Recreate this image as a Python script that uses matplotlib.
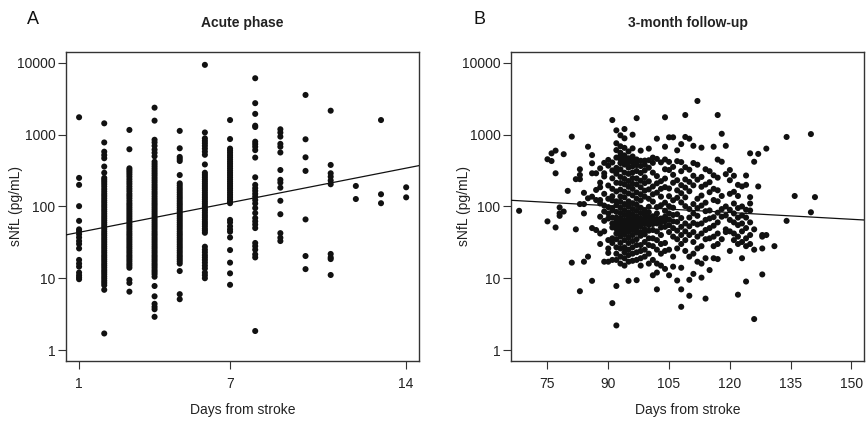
import numpy as np
import matplotlib
matplotlib.use('Agg')
import matplotlib.pyplot as plt
from matplotlib.ticker import NullLocator

plt.rcParams['font.family'] = ['Liberation Sans', 'DejaVu Sans']

# ---- panel A: acute phase, sNfL (pg/mL) per day from stroke ----
acute_days = [1, 2, 3, 4, 5, 6, 7, 8, 9, 10, 11, 12, 13, 14]
acute_nfl = [
    # day 1
    [1750, 250, 200, 101, 63, 48, 45, 41, 37, 33, 30, 26, 18, 16, 14.5, 12, 11, 10.3, 9.7],
    # day 2
    [1440, 780, 580, 520, 470, 360, 295, 250, 235, 220, 205, 190, 175, 162,
     150, 140, 130, 121, 113, 105, 98, 91, 85, 79, 73.5, 68.6, 64, 59.7, 55.7, 52,
     48.5, 45, 42, 39.4, 36.7, 34.3, 32, 29.8, 27.8, 26, 24.2, 22.6, 21, 19.7,
     18.4, 17.2, 16, 15, 14, 13, 12.2, 11.4, 10.6, 9.9, 9.2, 8.6, 8, 6.9, 1.7],
    # day 3
    [1165, 627, 340, 320, 300, 280, 260, 240, 222, 206, 190, 176, 163, 150,
     140, 130, 120, 111, 104, 97, 90.6, 84.5, 78.8, 73.5, 68.6, 64, 59.7, 55.7,
     52, 48.5, 45, 42, 39.4, 36.7, 34.3, 32, 29.8, 27.8, 26, 24.2, 22.6, 21,
     19.7, 18.4, 17.2, 16, 15, 14, 9.5, 8.6, 6.5],
    # day 4
    [2380, 1570, 850, 780, 700, 620, 560, 500, 420, 390, 362, 336, 312, 290,
     270, 250, 232, 216, 200, 186, 173, 160, 149, 138, 128, 119, 111, 104, 97,
     90.6, 84.5, 78.8, 73.5, 68.6, 64, 59.7, 55.7, 52, 48.5, 45, 42, 39.4, 36.7,
     34.3, 32, 29.8, 27.8, 26, 24.2, 22.6, 21, 19.7, 18.4, 17.2, 16, 15, 14, 13,
     12.2, 11.4, 10.5, 7.8, 5.6, 4.4, 4.0, 3.7, 2.9],
    # day 5
    [1130, 647, 490, 460, 430, 274, 210, 196, 182, 170, 158, 147, 137, 128,
     119, 111, 104, 97, 90.6, 84.5, 78.8, 73.5, 68.6, 64, 59.7, 55.7, 52, 48.5,
     45, 42, 39.4, 36.7, 34.3, 32, 29.8, 27.8, 26, 24.2, 22.6, 21, 19.7, 18.4,
     17.2, 16, 12.6, 6.0, 5.1],
    # day 6
    [9400, 1075, 890, 820, 760, 700, 640, 580, 525, 385, 295, 275, 256, 238,
     222, 207, 193, 180, 168, 156, 145, 135, 126, 117, 109, 101, 94, 88, 82, 76,
     71, 66, 61, 57, 53, 49, 46, 43, 27.5, 25, 23, 21, 19.5, 18, 16.5, 15, 13.7,
     12, 11, 10],
    # day 7
    [1600, 870, 640, 600, 560, 520, 485, 452, 420, 392, 365, 340, 316, 294,
     274, 255, 238, 222, 207, 193, 180, 168, 156, 145, 135, 126, 117, 111,
     65, 60, 53, 48, 44.5, 37, 24.7, 16.5, 11.7, 8.1],
    # day 8
    [6120, 2750, 1950, 1335, 1280, 800, 740, 680, 610, 480, 255, 200, 180, 165,
     150, 137, 123, 110, 95, 81, 69, 62, 56, 50, 31, 28, 25, 21.5, 19.5, 1.84],
    # day 9
    [1190, 1070, 940, 745, 680, 565, 322, 235, 215, 183, 120, 78, 42.5, 36.7, 33],
    # day 10
    [3580, 863, 484, 313, 66, 20.4, 13.4],
    # day 11
    [2160, 379, 290, 260, 230, 204, 21.8, 19.5, 18.5, 11.1],
    # day 12
    [193, 127],
    # day 13
    [1600, 148, 111],
    # day 14
    [185, 134],
]

# ---- panel B: 3-month follow-up ----
fu_days = [68, 75, 76, 77, 78, 79, 80, 81, 82, 83, 84, 85, 86, 87, 88, 89, 90,
           91, 92, 93, 94, 95, 96, 97, 98, 99, 100, 101, 102, 103, 104, 105,
           106, 107, 108, 109, 110, 111, 112, 113, 114, 115, 116, 117, 118,
           119, 120, 121, 122, 123, 124, 125, 126, 127, 128, 129, 131, 134,
           136, 140, 141]
fu_nfl = [
    [87],
    [62, 455],
    [430, 550],
    [600, 290, 51],
    [97, 80, 74],
    [85, 535],
    [165],
    [940, 16.5],
    [48, 240],
    [240, 330, 275, 6.6, 108],
    [155, 80, 17, 108],
    [20, 680, 130],
    [520, 400, 9.2, 137, 50, 290],
    [123, 47, 290, 170],
    [340, 215, 123, 72, 30, 42, 185, 110],
    [290, 405, 103, 85, 63, 17, 262, 150, 45],
    [445, 370, 26, 98, 80, 68, 34, 22.5, 128, 196, 17],
    [1600, 410, 176, 121, 88, 58, 51, 31, 4.5, 318, 247, 70, 36, 18, 139, 95],
    [1150, 760, 610, 480, 345, 286, 214, 162, 118, 104, 84, 70, 61, 55, 49, 42,
     35, 27, 22, 18, 2.2, 7.8, 300, 66],
    [980, 690, 560, 455, 402, 330, 258, 212, 172, 138, 116, 96, 81, 69, 60, 53,
     48, 44, 38, 31, 26, 20, 16, 505],
    [1200, 890, 655, 515, 438, 383, 296, 242, 203, 161, 134, 108, 89, 76, 64,
     58, 52, 46, 41, 34, 27, 23, 19, 15],
    [585, 470, 412, 348, 285, 226, 188, 152, 118, 100, 83, 71, 62, 57, 50, 44,
     37, 31, 25, 21, 9.2, 17],
    [1000, 645, 497, 421, 363, 298, 248, 207, 176, 143, 111, 92, 78, 67, 61,
     54, 47, 40, 33, 27, 22, 17.5],
    [1700, 452, 377, 312, 246, 203, 157, 128, 106, 87, 73, 64, 57, 49, 43, 35,
     29, 23, 18, 9.4, 425],
    [600, 433, 366, 293, 228, 185, 148, 122, 96, 81, 68, 59, 53, 44, 39, 29,
     24, 19, 15],
    [436, 381, 318, 255, 212, 166, 137, 88, 76, 66, 57, 48, 41, 32, 25, 20],
    [640, 441, 347, 224, 173, 128, 99, 83, 71, 61, 55, 46, 36, 29, 22, 16],
    [405, 296, 190, 148, 117, 73, 64, 57, 47, 36, 28, 18, 11, 480],
    [880, 460, 265, 210, 156, 98, 80, 67, 58, 45, 34, 25, 16, 7.0, 12],
    [412, 225, 176, 137, 104, 68, 60, 51, 40, 30, 22, 15],
    [1750, 680, 452, 330, 245, 186, 113, 87, 72, 62, 52, 31, 24, 13.5],
    [920, 418, 322, 178, 139, 101, 80, 66, 55, 44, 25, 11],
    [920, 356, 276, 214, 122, 96, 76, 62, 50, 38, 20, 14.5],
    [605, 428, 232, 168, 132, 78, 61, 46, 35, 26, 9.3],
    [740, 415, 310, 198, 153, 114, 69, 52, 40, 30, 7.0, 4.0, 14],
    [930, 352, 238, 183, 134, 101, 58, 45, 34, 24, 1880],
    [880, 325, 220, 163, 92, 70, 53, 40, 9.5, 5.7, 20],
    [700, 403, 268, 197, 108, 80, 59, 44, 32, 22, 11.5],
    [2950, 382, 236, 128, 95, 74, 56, 38, 26, 17],
    [660, 258, 188, 142, 103, 58, 42, 28, 10.2, 16],
    [330, 202, 113, 86, 65, 47, 35, 5.2, 19],
    [310, 218, 158, 88, 68, 50, 36, 13],
    [680, 272, 176, 123, 71, 54, 38, 28, 19],
    [1880, 450, 252, 168, 118, 82, 60, 42, 30, 18.5],
    [1030, 420, 140, 92, 72, 35],
    [700, 282, 100, 75, 48, 44],
    [322, 232, 150, 90, 65, 45, 24],
    [268, 160, 110, 80, 60, 42, 34],
    [200, 140, 95, 70, 55, 38, 30, 5.9],
    [190, 100, 75, 58, 45, 32, 19],
    [270, 200, 90, 70, 50, 36, 28, 9],
    [550, 135, 110, 88, 60, 40, 30],
    [420, 48, 25, 2.7],
    [540, 190],
    [40, 26, 11.3, 38],
    [640, 40],
    [28],
    [930, 63],
    [140],
    [1020, 83],
    [135],
]

# fitted lines, log10(sNfL) = a + b * day
acute_fit = (1.571, 0.0688)
fu_fit = (2.294, -0.00315)

fig = plt.figure(figsize=(8.66, 4.21), dpi=100)
ax1 = fig.add_axes([66/866, 1-361/421, 353/866, 309/421])
ax2 = fig.add_axes([511/866, 1-361/421, 353/866, 309/421])


def draw(ax, days, vals, fit, xlim, xticks, title, letter, ylab_x, letter_x):
    x = np.repeat(days, [len(v) for v in vals])
    y = np.concatenate([np.asarray(v, float) for v in vals])
    ax.scatter(x, y, s=19, color='#111111', edgecolors='none', zorder=3)
    xx = np.array(xlim)
    ax.plot(xx, 10 ** (fit[0] + fit[1] * xx), color='#111111', lw=0.9, zorder=4)
    ax.set_yscale('log')
    ax.set_xlim(xlim)
    ax.set_ylim(0.703, 14200)
    ax.set_yticks([1, 10, 100, 1000, 10000])
    ax.set_yticklabels(['1', '10', '100', '1000', '10000'])
    ax.yaxis.set_minor_locator(NullLocator())
    ax.set_xticks(xticks)
    ax.set_xticklabels([str(t) for t in xticks])
    ax.tick_params(axis='both', direction='out', length=5.5, width=0.8,
                   color='#333333', labelsize=10, labelcolor='#222222')
    ax.tick_params(axis='y', pad=2)
    ax.tick_params(axis='x', pad=6)
    for sp in ax.spines.values():
        sp.set_color('#333333')
        sp.set_linewidth(1.0)
    ax.set_ylabel('sNfL (pg/mL)', fontsize=10, color='#222222')
    ax.yaxis.set_label_coords(ylab_x, 0.5)
    ax.set_xlabel('Days from stroke', fontsize=10, color='#222222')
    ax.xaxis.set_label_coords(0.5, -0.135)
    ax.set_title(title, fontsize=10, fontweight='bold', color='#222222', pad=18)
    ax.text(letter_x, 1.104, letter, transform=ax.transAxes, fontsize=13,
            color='#111111', ha='center', va='center')


draw(ax1, acute_days, acute_nfl, acute_fit, (0.48, 14.51), [1, 7, 14],
     'Acute phase', 'A', -0.122, -0.094)
draw(ax2, fu_days, fu_nfl, fu_fit, (66.0, 153.1), [75, 90, 105, 120, 135, 150],
     '3-month follow-up', 'B', -0.113, -0.088)

fig.savefig('out.png', dpi=100)
